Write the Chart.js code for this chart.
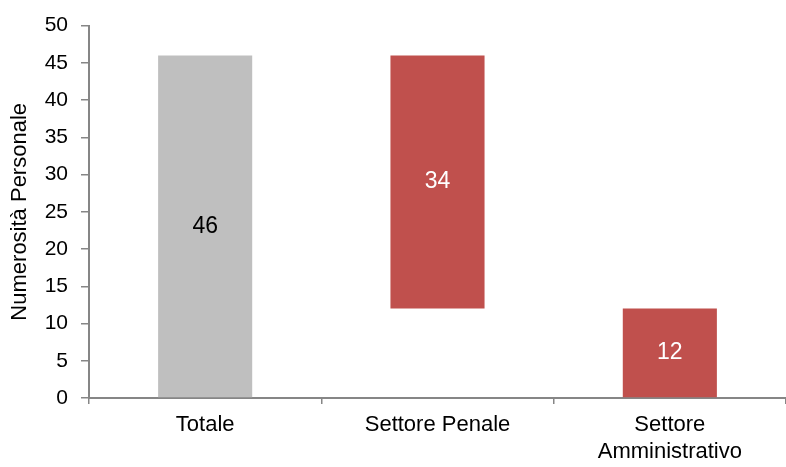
<!DOCTYPE html>
<html>
<head>
<meta charset="utf-8">
<script src="https://cdn.jsdelivr.net/npm/chart.js@4"></script>
<style>
  html, body { margin: 0; padding: 0; background: #fff; }
  #wrap { width: 786px; height: 467px; }
</style>
</head>
<body>
<div id="wrap"><canvas id="myChart"></canvas></div>
<script>
// waterfall: each bar is [start, end]
const categories = ['Totale', 'Settore Penale', ['Settore', 'Amministrativo']]
const barStart = [0, 12, 0]
const barEnd = [46, 46, 12]
const barLabels = ['46', '34', '12']
const yTicks = [0, 5, 10, 15, 20, 25, 30, 35, 40, 45, 50]

const barColors = ['#bfbfbf', '#c0504d', '#c0504d']
const labelColors = ['#000000', '#ffffff', '#ffffff']
const axisColor = '#868686'
const font = 'Liberation Sans, Arial, sans-serif'

const insideLabels = {
    id: 'insideLabels',
    afterDatasetsDraw(chart) {
        const ctx = chart.ctx
        const meta = chart.getDatasetMeta(0)
        ctx.save()
        ctx.font = '23px ' + font
        ctx.textAlign = 'center'
        ctx.textBaseline = 'middle'
        meta.data.forEach((bar, i) => {
            ctx.fillStyle = labelColors[i]
            ctx.fillText(barLabels[i], bar.x, (bar.y + bar.base) / 2)
        })
        ctx.restore()
    }
}

let myChart = document.getElementById('myChart').getContext('2d')

let waterfall = new Chart(myChart, {
    type: 'bar',
    data: {
        labels: categories,
        datasets: [{
            data: barStart.map((s, i) => [s, barEnd[i]]),
            backgroundColor: barColors,
            borderWidth: 0,
            borderSkipped: false,
            categoryPercentage: 1,
            barPercentage: 0.405
        }]
    },
    options: {
        responsive: true,
        maintainAspectRatio: false,
        animation: false,
        layout: {
            padding: {top: 18, right: -6, bottom: 0, left: 0}
        },
        scales: {
            x: {
                afterFit: s => { s.height = 69 },
                grid: {
                    offset: true,
                    drawOnChartArea: false,
                    tickLength: 6,
                    color: axisColor,
                    lineWidth: 1.5
                },
                border: {color: axisColor, width: 2},
                ticks: {
                    color: '#000',
                    padding: 8,
                    font: {family: font, size: 22}
                }
            },
            y: {
                min: 0,
                max: 50,
                afterFit: s => { s.width = 89 },
                afterBuildTicks: s => { s.ticks = yTicks.map(v => ({value: v})) },
                grid: {
                    drawOnChartArea: false,
                    tickLength: 8,
                    color: axisColor,
                    lineWidth: 1.5
                },
                border: {color: axisColor, width: 2},
                ticks: {
                    color: '#000',
                    padding: 13,
                    font: {family: font, size: 21}
                },
                title: {
                    display: true,
                    text: 'Numerosità Personale',
                    color: '#000',
                    padding: {top: 7, bottom: 0},
                    font: {family: font, size: 22}
                }
            }
        },
        plugins: {
            legend: {display: false},
            tooltip: {enabled: false}
        }
    },
    plugins: [insideLabels]
})
</script>
</body>
</html>
